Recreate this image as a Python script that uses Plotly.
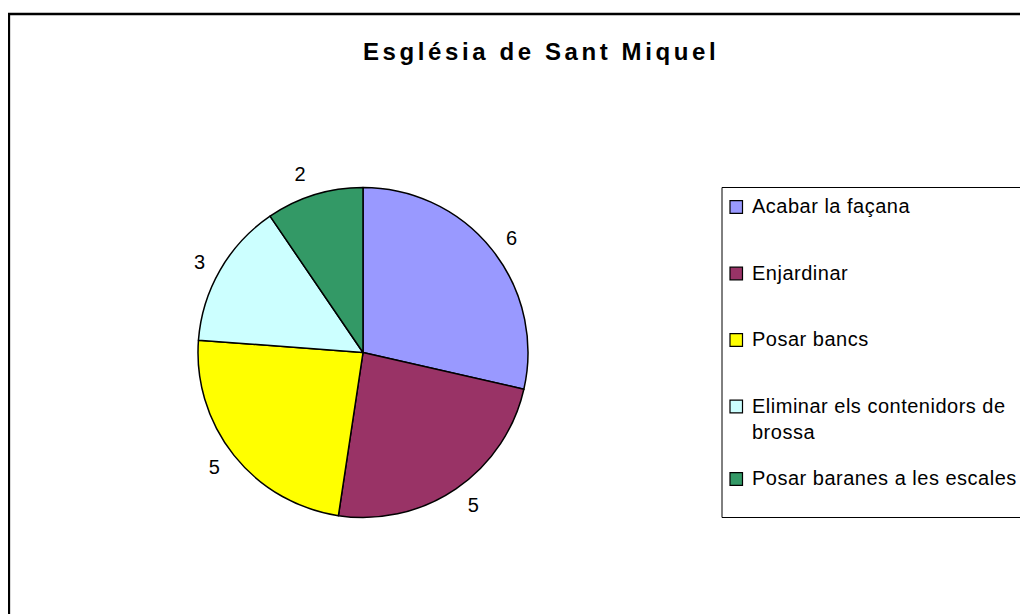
import plotly.graph_objects as go

# ---- data ----
title_text = "Església de Sant Miquel"
labels = ["Acabar la façana", "Enjardinar", "Posar bancs",
          "Eliminar els contenidors de brossa", "Posar baranes a les escales"]
legend_text = ["Acabar la façana", "Enjardinar", "Posar bancs",
               "Eliminar els contenidors de<br>brossa", "Posar baranes a les escales"]
values = [6, 5, 5, 3, 2]
colors = ["#9999FF", "#993366", "#FFFF00", "#CCFFFF", "#339966"]

# page offset (body margin) and figure size
OFF = 8
W, H = 1020, 606
FONT = "Liberation Sans, Arial, sans-serif"

def px(x):
    return (x - OFF) / W

def py(y):
    return 1 - (y - OFF) / H

cx, cy, r = 363, 352.5, 165
r_lab = 176

fig = go.Figure()
# transparent ring used only to carry the value labels a bit further out
fig.add_trace(go.Pie(
    labels=labels, values=values, sort=False, direction="clockwise", rotation=0,
    marker=dict(colors=["rgba(0,0,0,0)"] * len(values), line=dict(width=0)),
    textinfo="value", textposition="outside",
    textfont=dict(family=FONT, size=20, color="black"),
    domain=dict(x=[px(cx - r_lab), px(cx + r_lab)], y=[py(cy + r_lab), py(cy - r_lab)]),
    showlegend=False, hoverinfo="skip",
))
fig.add_trace(go.Pie(
    labels=labels, values=values, sort=False, direction="clockwise", rotation=0,
    marker=dict(colors=colors, line=dict(color="black", width=1.5)),
    textinfo="none",
    domain=dict(x=[px(cx - r), px(cx + r)], y=[py(cy + r), py(cy - r)]),
    showlegend=False, hoverinfo="label+value",
))

shapes = [
    dict(type="rect", xref="paper", yref="paper", x0=px(8.9), x1=1.02, y0=py(14), y1=-0.02,
         line=dict(color="black", width=2.5), fillcolor="rgba(0,0,0,0)"),
    dict(type="rect", xref="paper", yref="paper", x0=px(722), x1=1.02, y0=py(187.5), y1=py(517.5),
         line=dict(color="black", width=1), fillcolor="rgba(0,0,0,0)"),
]
annotations = [
    dict(text='<span style="letter-spacing:3.6px">' + title_text + '</span>',
         xref="paper", yref="paper", x=px(541), y=py(52),
         xanchor="center", yanchor="middle", showarrow=False,
         font=dict(family=FONT, size=24, color="black", weight="bold")),
]

yc = 207
for i, (t, c) in enumerate(zip(legend_text, colors)):
    shapes.append(dict(type="rect", xref="paper", yref="paper",
                       x0=px(730), x1=px(742.5), y0=py(yc - 6.3), y1=py(yc + 6.3),
                       line=dict(color="black", width=1.2), fillcolor=c))
    annotations.append(dict(text='<span style="letter-spacing:0.5px">' + t + '</span>',
                            xref="paper", yref="paper", x=px(751), y=py(yc - 13),
                            xanchor="left", yanchor="top", align="left", showarrow=False,
                            borderpad=0,
                            font=dict(family=FONT, size=20, color="black")))
    yc += 66.5 + 6 * t.count("<br>")

fig.update_layout(
    width=W, height=H, margin=dict(l=0, r=0, t=0, b=0),
    paper_bgcolor="white", plot_bgcolor="white",
    shapes=shapes, annotations=annotations, showlegend=False,
)

fig.write_html("out.html")
